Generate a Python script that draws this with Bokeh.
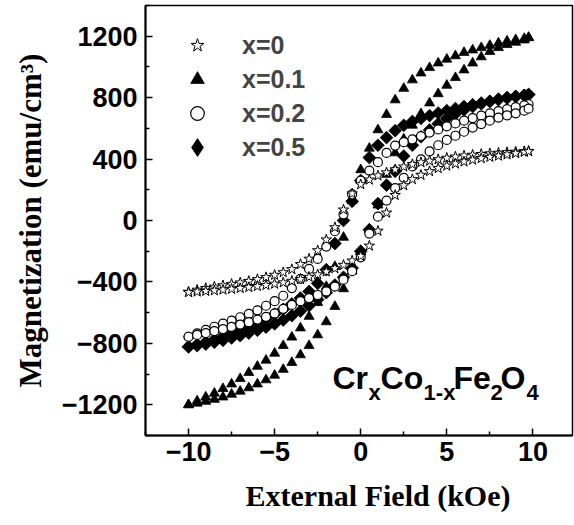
import numpy as np
from bokeh.plotting import figure
from bokeh.models import Legend, LegendItem, Label, Title, FixedTicker, ColumnDataSource
from bokeh.embed import file_html
from bokeh.resources import INLINE

# Field values (kOe), ascending
fields = [-10, -9.5, -9, -8.5, -8, -7.5, -7, -6.5, -6, -5.5, -5, -4.5, -4, -3.5, -3, -2.5, -2, -1.5, -1, -0.5,
          0, 0.5, 1, 1.5, 2, 2.5, 3, 3.5, 4, 4.5, 5, 5.5, 6, 6.5, 7, 7.5, 8, 8.5, 9, 9.5, 9.75]

# x=0 (stars)
m0_upper = [-465, -452, -441, -432, -423, -414, -405, -395, -383, -370, -355, -338, -318, -285, -250, -195, -125, -45, 70, 175,
            235, 265, 292, 312, 332, 350, 366, 378, 388, 398, 407, 415, 422, 427, 432, 436, 440, 444, 447, 450, 452]
m0_lower = [-468, -464, -460, -456, -451, -446, -441, -435, -428, -421, -413, -404, -394, -382, -368, -352, -333, -312, -290, -262,
            -232, -165, -68, 50, 165, 228, 268, 296, 320, 340, 356, 370, 383, 395, 405, 413, 421, 429, 437, 446, 450]

# x=0.1 (triangles)
m1_upper = [-1200, -1175, -1150, -1125, -1095, -1065, -1030, -990, -950, -910, -865, -815, -760, -700, -625, -535, -430, -300, -110, 130,
            330, 470, 590, 690, 785, 860, 915, 960, 995, 1025, 1050, 1072, 1094, 1110, 1125, 1140, 1155, 1168, 1177, 1185, 1192]
m1_lower = [-1200, -1190, -1178, -1165, -1150, -1132, -1112, -1090, -1065, -1038, -1008, -970, -925, -875, -815, -745, -660, -560, -445, -330,
            -200, -60, 100, 300, 440, 530, 620, 695, 765, 825, 880, 930, 980, 1025, 1065, 1100, 1125, 1145, 1160, 1175, 1190]

# x=0.2 (open circles)
m2_upper = [-757, -735, -712, -692, -672, -652, -630, -608, -585, -555, -525, -490, -440, -380, -315, -250, -170, -70, 40, 170,
            260, 325, 380, 440, 488, 510, 528, 550, 572, 593, 613, 632, 650, 667, 683, 698, 712, 725, 738, 750, 757]
m2_lower = [-757, -745, -733, -720, -707, -693, -678, -662, -645, -627, -605, -575, -550, -525, -505, -485, -462, -430, -385, -330,
            -240, -85, 25, 130, 211, 278, 352, 398, 450, 490, 525, 552, 578, 605, 628, 650, 670, 685, 698, 715, 728]

# x=0.5 (diamonds)
m5_upper = [-822, -808, -792, -775, -757, -737, -715, -692, -667, -640, -610, -578, -543, -505, -462, -410, -320, -150, 0, 125,
            260, 410, 490, 540, 585, 620, 645, 665, 683, 700, 715, 729, 742, 754, 765, 776, 787, 797, 806, 815, 820]
m5_lower = [-822, -815, -805, -793, -780, -765, -750, -733, -715, -695, -673, -648, -620, -590, -555, -515, -470, -420, -370, -310,
            -200, -60, 110, 230, 320, 420, 490, 545, 590, 630, 665, 695, 720, 742, 760, 776, 790, 801, 809, 815, 820]

labels = ["x=0", "x=0.1", "x=0.2", "x=0.5"]
x_ticks = [-10, -5, 0, 5, 10]
y_ticks = [-1200, -800, -400, 0, 400, 800, 1200]

formula_parts = ["Cr", "x", "Co", "1-x", "Fe", "2", "O", "4"]
formula_sub = [False, True, False, True, False, True, False, True]
formula_x = [-1.64, 0.45, 1.15, 3.65, 5.39, 7.54, 8.12, 9.63]

p = figure(width=574, height=525, x_range=(-12.5, 12.3), y_range=(-1400, 1400),
           output_backend="svg", toolbar_location=None,
           min_border_left=145, min_border_right=2, min_border_top=5, min_border_bottom=90)
p.grid.visible = False
p.outline_line_color = "black"
p.outline_line_width = 1.5
p.background_fill_color = "white"
p.border_fill_color = "white"

def branch_source(up, low):
    xs = list(reversed(fields)) + list(fields)
    ys = list(reversed(up)) + list(low)
    return ColumnDataSource(dict(x=xs, y=ys))

r5 = p.scatter("x", "y", source=branch_source(m5_upper, m5_lower), marker="square", angle=np.pi / 4,
               size=9, fill_color="black", line_color="black", line_width=0.8)
r1 = p.scatter("x", "y", source=branch_source(m1_upper, m1_lower), marker="triangle",
               size=10, fill_color="black", line_color="black", line_width=0.8)
r2 = p.scatter("x", "y", source=branch_source(m2_upper, m2_lower), marker="circle",
               size=9, fill_color="white", line_color="black", line_width=1.2)
r0 = p.scatter("x", "y", source=branch_source(m0_upper, m0_lower), marker="star",
               size=11, fill_color="white", line_color="black", line_width=1.0)
# legend swatch for the diamond series (nothing drawn in the plot area)
r5_key = p.scatter(x=[np.nan], y=[np.nan], marker="diamond", fill_color="black", line_color="black",
                   line_width=3.0, line_join="miter")

legend = Legend(items=[LegendItem(label=labels[0], renderers=[r0]),
                       LegendItem(label=labels[1], renderers=[r1]),
                       LegendItem(label=labels[2], renderers=[r2]),
                       LegendItem(label=labels[3], renderers=[r5_key])],
                location=(32, 271), padding=0, margin=0, spacing=0,
                glyph_width=40, glyph_height=34, label_height=34, label_standoff=25,
                label_text_font="Liberation Sans", label_text_font_style="bold",
                label_text_font_size="25px", label_text_baseline="middle",
                border_line_color=None, background_fill_alpha=0)
p.add_layout(legend, "center")

for ax in (p.xaxis[0], p.yaxis[0]):
    ax.major_tick_in = 7
    ax.major_tick_out = 0
    ax.minor_tick_in = 4
    ax.minor_tick_out = 0
    ax.major_tick_line_width = 1.5
    ax.minor_tick_line_width = 1.5
    ax.axis_line_width = 2
    ax.major_label_text_font = "Liberation Sans"
    ax.major_label_text_font_style = "bold"
    ax.major_label_text_font_size = "27px"
    ax.major_label_text_color = "black"
    ax.axis_label_text_font = "Liberation Serif"
    ax.axis_label_text_font_style = "bold"
    ax.axis_label_text_color = "black"

p.xaxis.ticker = FixedTicker(ticks=x_ticks, minor_ticks=[-12.5, -7.5, -2.5, 2.5, 7.5, 12.5])
p.yaxis.ticker = FixedTicker(ticks=y_ticks, minor_ticks=[-1400, -1000, -600, -200, 200, 600, 1000, 1400])
p.yaxis.axis_label = "Magnetization (emu/cm³)"
p.yaxis.axis_label_text_font_size = "31px"
p.xaxis.major_label_standoff = 6
p.yaxis.major_label_standoff = 8
p.yaxis.axis_label_standoff = 11

# x-axis title, slightly right of centre as in the original
p.add_layout(Title(text="External Field (kOe)", align="left", offset=100, standoff=26,
                   text_font="Liberation Serif", text_font_style="bold", text_font_size="30px",
                   text_color="black"), "below")

for part, sub, xp in zip(formula_parts, formula_sub, formula_x):
    p.add_layout(Label(x=xp, y=(-1119 if sub else -1026), text=part,
                       text_font="Liberation Sans", text_font_style="bold",
                       text_font_size=("22px" if sub else "32px"),
                       text_baseline="alphabetic", text_align="left", text_color="black"))

open("out.html", "w").write(file_html(p, INLINE))
